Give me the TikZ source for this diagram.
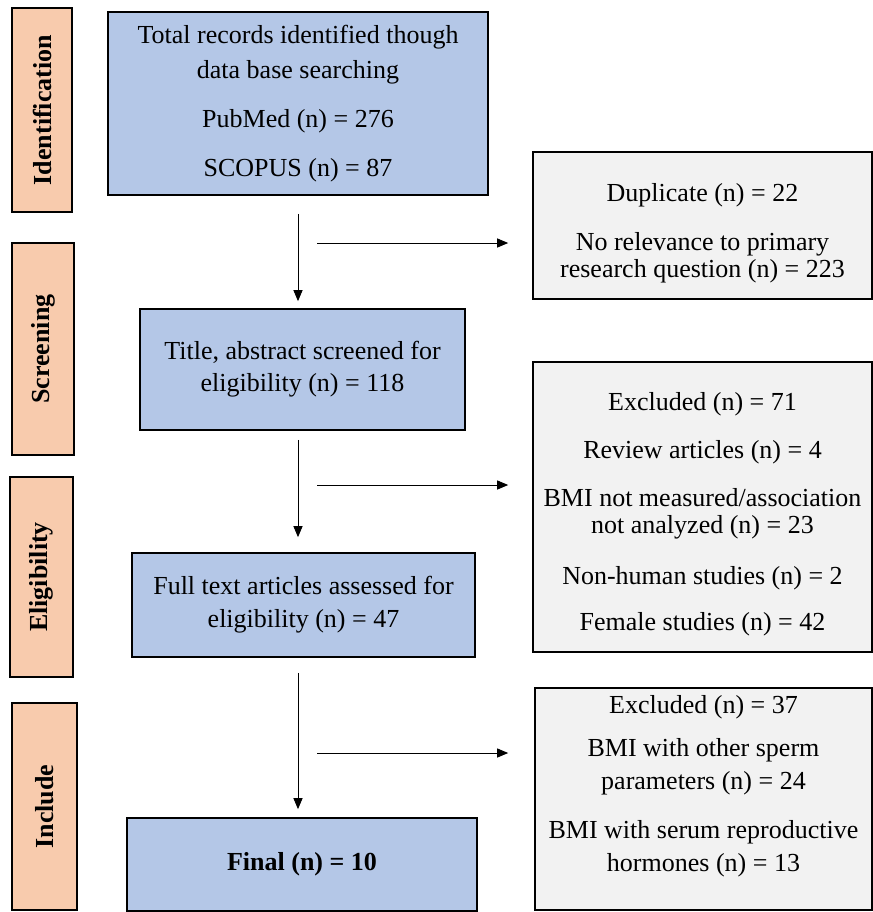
\documentclass[tikz,border=0pt]{standalone}
\usepackage{fontspec}
\setmainfont{Liberation Serif}
\usepackage{xcolor}
\usetikzlibrary{arrows.meta}
\definecolor{stagefill}{HTML}{F8CBAD}
\definecolor{flowfill}{HTML}{B4C7E7}
\definecolor{sidefill}{HTML}{F2F2F2}

\begin{document}
\begin{tikzpicture}[x=0.5pt,y=-0.5pt]
	
	\tikzset{stage/.style={
			draw, fill=stagefill, rotate=90,
			line width=0.6pt, inner sep=0pt,
			font=\fontsize{13}{15}\selectfont\bfseries
		},
		flowbox/.style={
			draw, fill=flowfill, align=center,
			line width=0.8pt, inner sep=0pt,
			font=\fontsize{13}{13.5}\selectfont
		},
		sidebox/.style={
			flowbox, fill=sidefill
		},
		arr/.style={-{Triangle[length=5.5pt,width=4.5pt]}, line width=0.5pt}
	}
	\useasboundingbox (0,0) rectangle (873,912);
	
	% stages
	\node[stage, minimum width=102pt, minimum height=30pt] (idbar) at (42,110) {Identification};
	\node[stage, minimum width=106pt, minimum height=31pt] (scrbar) at (43,349) {Screening};
	\node[stage, minimum width=100pt, minimum height=31.5pt] (eligbar) at (41.5,577) {Eligibility};
	\node[stage, minimum width=103.5pt, minimum height=32.5pt] (inclbar) at (44.5,806.5) {Include};
	
	% main flow
	\node[flowbox, minimum width=190pt, minimum height=91.5pt] (records) at (298,103.5)
	{Total records identified though\\[4pt] data base searching\\[11pt]
		PubMed (n) = 276\\[11pt] SCOPUS (n) = 87};
	\node[flowbox, minimum width=162.5pt, minimum height=60.5pt] (screened) at (302.5,369.5)
	{Title, abstract screened for\\[2.5pt] eligibility (n) = 118};
	\node[flowbox, minimum width=171.5pt, minimum height=52pt] (fulltext) at (303.5,605)
	{Full text articles assessed for\\[3pt] eligibility (n) = 47};
	\node[flowbox, minimum width=175pt, minimum height=46.5pt, font=\fontsize{13}{15}\selectfont\bfseries] (final) at (302,864.5)
	{Final (n) = 10};
	
	% excluded
	\node[sidebox, minimum width=169.5pt, minimum height=73.5pt] (dup) at (702.5,225.5)
	{\rule{0pt}{17pt}Duplicate (n) = 22\\[11pt] No relevance to primary\\ research question (n) = 223};
	\node[sidebox, minimum width=169.5pt, minimum height=145pt] (excla) at (702.5,507)
	{\rule{0pt}{16pt}Excluded (n) = 71\\[10.5pt] Review articles (n) = 4\\[10.5pt]
		BMI not measured/association\\ not analyzed (n) = 23\\[12pt]
		Non-human studies (n) = 2\\[9.5pt] Female studies (n) = 42};
	\node[sidebox, minimum width=168.5pt, minimum height=111pt] (exclb) at (703.5,799)
	{Excluded (n) = 37\\[8pt] BMI with other sperm\\[3pt] parameters (n) = 24\\[11pt]
		BMI with serum reproductive\\[3pt] hormones (n) = 13\\[2.5pt]\mbox{}};
	
	\coordinate (ha) at (317,243);
	\coordinate (hb) at (317,485);
	\coordinate (hc) at (317,753);
	
	\draw[arr, shorten <=9pt, shorten >=3.5pt] (records.south) -- (records.south |- screened.north);
	\draw[arr, shorten <=4.5pt, shorten >=7.5pt] (screened.south -| records.south) -- (fulltext.north -| records.south);
	\draw[arr, shorten <=7.5pt, shorten >=4pt] (fulltext.south -| records.south) -- (final.north -| records.south);
	
	\draw[arr, shorten >=12pt] (ha) -- (ha -| dup.west);
	\draw[arr, shorten >=12pt] (hb) -- (hb -| excla.west);
	\draw[arr, shorten >=13pt] (hc) -- (hc -| exclb.west);
	
\end{tikzpicture}
\end{document}
